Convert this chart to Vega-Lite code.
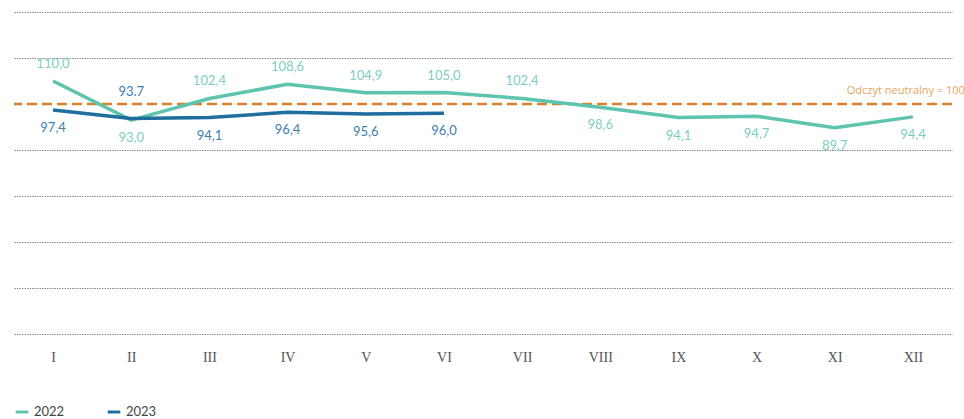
{
  "$schema": "https://vega.github.io/schema/vega-lite/v6.json",
  "width": 938,
  "height": 322,
  "padding": {"top": 12, "left": 12, "right": 0, "bottom": 0},
  "background": "white",
  "data": {
    "values": [
      {"month": "I", "year": "2022", "value": 110.0, "label": "110,0", "pos": "above"},
      {"month": "II", "year": "2022", "value": 93.0, "label": "93,0", "pos": "below"},
      {"month": "III", "year": "2022", "value": 102.4, "label": "102,4", "pos": "above"},
      {"month": "IV", "year": "2022", "value": 108.6, "label": "108,6", "pos": "above"},
      {"month": "V", "year": "2022", "value": 104.9, "label": "104,9", "pos": "above"},
      {"month": "VI", "year": "2022", "value": 105.0, "label": "105,0", "pos": "above"},
      {"month": "VII", "year": "2022", "value": 102.4, "label": "102,4", "pos": "above"},
      {"month": "VIII", "year": "2022", "value": 98.6, "label": "98,6", "pos": "below"},
      {"month": "IX", "year": "2022", "value": 94.1, "label": "94,1", "pos": "below"},
      {"month": "X", "year": "2022", "value": 94.7, "label": "94,7", "pos": "below"},
      {"month": "XI", "year": "2022", "value": 89.7, "label": "89,7", "pos": "below"},
      {"month": "XII", "year": "2022", "value": 94.4, "label": "94,4", "pos": "below"},
      {"month": "I", "year": "2023", "value": 97.4, "label": "97,4", "pos": "below"},
      {"month": "II", "year": "2023", "value": 93.7, "label": "93.7", "pos": "high"},
      {"month": "III", "year": "2023", "value": 94.1, "label": "94,1", "pos": "below"},
      {"month": "IV", "year": "2023", "value": 96.4, "label": "96,4", "pos": "below"},
      {"month": "V", "year": "2023", "value": 95.6, "label": "95,6", "pos": "below"},
      {"month": "VI", "year": "2023", "value": 96.0, "label": "96,0", "pos": "below"}
    ]
  },
  "encoding": {
    "x": {
      "field": "month",
      "type": "ordinal",
      "sort": ["I","II","III","IV","V","VI","VII","VIII","IX","X","XI","XII"],
      "scale": {"type": "point", "padding": 0.5},
      "axis": {
        "title": null, "domain": false, "ticks": false, "grid": false, "labelAngle": 0,
        "labelFont": "Liberation Serif", "labelFontSize": 14, "labelColor": "#555555", "labelPadding": 16
      }
    },
    "y": {
      "field": "value",
      "type": "quantitative",
      "scale": {"domain": [0, 140], "nice": false, "zero": true},
      "axis": {
        "title": null, "domain": false, "ticks": false, "labels": false,
        "values": [0, 20, 40, 60, 80, 120, 140],
        "grid": true, "gridColor": "#8a8a8a", "gridDash": [1.5, 1], "gridWidth": 1
      }
    }
  },
  "layer": [
    {
      "data": {"values": [{"ref": 100}]},
      "mark": {"type": "rule", "color": "#d9822b", "strokeWidth": 2.5, "strokeDash": [10, 5]},
      "encoding": {"y": {"field": "ref", "type": "quantitative"}, "x": null}
    },
    {
      "data": {"values": [{"ref": 100, "month": "XII", "note": "Odczyt neutralny = 100"}]},
      "mark": {"type": "text", "align": "right", "baseline": "middle", "dx": 52, "dy": -13, "font": "Open Sans", "fontSize": 11, "color": "#e6a55f"},
      "encoding": {"y": {"field": "ref", "type": "quantitative"}, "text": {"field": "note"}}
    },
    {
      "mark": {"type": "line", "strokeWidth": 3.5, "strokeJoin": "round"},
      "encoding": {
        "color": {
          "field": "year", "type": "nominal",
          "scale": {"domain": ["2022", "2023"], "range": ["#5ec4ad", "#1f6e9e"]},
          "legend": {
            "title": null, "orient": "bottom", "direction": "horizontal", "symbolType": "stroke",
            "symbolStrokeWidth": 3, "symbolSize": 160, "labelFont": "Lato", "labelFontSize": 13,
            "labelColor": "#444444", "columnPadding": 36, "offset": 40, "labelOffset": 4
          }
        }
      }
    },
    {
      "transform": [{"filter": "datum.pos === 'above'"}],
      "mark": {"type": "text", "dy": -17, "font": "Lato", "fontSize": 13, "baseline": "middle"},
      "encoding": {
        "text": {"field": "label"},
        "color": {"field": "year", "type": "nominal", "scale": {"domain": ["2022", "2023"], "range": ["#7ccfbd", "#3d7fb0"]}, "legend": null}
      }
    },
    {
      "transform": [{"filter": "datum.pos === 'below'"}],
      "mark": {"type": "text", "dy": 18, "font": "Lato", "fontSize": 13, "baseline": "middle"},
      "encoding": {
        "text": {"field": "label"},
        "color": {"field": "year", "type": "nominal", "scale": {"domain": ["2022", "2023"], "range": ["#7ccfbd", "#3d7fb0"]}, "legend": null}
      }
    },
    {
      "transform": [{"filter": "datum.pos === 'high'"}],
      "mark": {"type": "text", "dy": -26, "font": "Lato", "fontSize": 13, "baseline": "middle"},
      "encoding": {
        "text": {"field": "label"},
        "color": {"field": "year", "type": "nominal", "scale": {"domain": ["2022", "2023"], "range": ["#7ccfbd", "#3d7fb0"]}, "legend": null}
      }
    }
  ],
  "resolve": {"scale": {"color": "independent"}},
  "config": {"view": {"stroke": null}}
}
